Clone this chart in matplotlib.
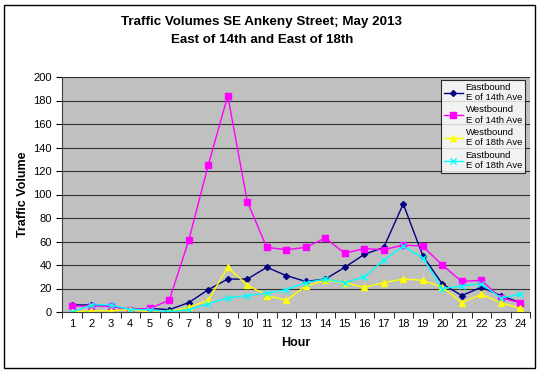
import numpy as np
import matplotlib.pyplot as plt
from matplotlib.patches import Rectangle

plt.rcParams['font.family'] = ['Liberation Sans', 'DejaVu Sans']

hours = list(range(1, 25))
east_14 = [6, 6, 5, 2, 3, 2, 8, 19, 28, 28, 38, 31, 26, 28, 38, 49, 55, 92, 48, 24, 14, 21, 14, 8]
west_14 = [5, 5, 5, 2, 3, 10, 61, 125, 184, 94, 55, 53, 55, 63, 50, 54, 53, 57, 56, 40, 26, 27, 12, 8]
west_18 = [0, 1, 1, 2, 0, 0, 4, 10, 38, 23, 14, 10, 22, 27, 25, 21, 25, 28, 27, 21, 8, 15, 8, 3]
east_18 = [0, 6, 6, 2, 2, 0, 2, 7, 12, 14, 16, 19, 25, 28, 25, 30, 44, 56, 46, 20, 22, 24, 12, 15]

fig = plt.figure(figsize=(5.4, 3.72), dpi=100)
ax = fig.add_axes([62 / 540, 1 - 312 / 372, 468 / 540, 235 / 372])
ax.set_facecolor('#C0C0C0')

ax.plot(hours, east_14, color='#000080', marker='D', markersize=3, lw=1,
        label='Eastbound\nE of 14th Ave')
ax.plot(hours, west_14, color='#FF00FF', marker='s', markersize=4.5, lw=1,
        label='Westbound\nE of 14th Ave')
ax.plot(hours, west_18, color='#FFFF00', marker='^', markersize=4, lw=1,
        label='Westbound\nE of 18th Ave')
ax.plot(hours, east_18, color='#00FFFF', marker='x', markersize=4, lw=1,
        label='Eastbound\nE of 18th Ave')

ax.set_xlim(0.5, 24.5)
ax.set_ylim(0, 200)
ax.set_yticks(np.arange(0, 201, 20))
ax.set_xticks(hours)
ax.set_xticks(np.arange(0.5, 25, 1), minor=True)
ax.tick_params(axis='x', which='major', length=0, labelsize=8, pad=5)
ax.tick_params(axis='x', which='minor', length=4, direction='out')
ax.tick_params(axis='y', labelsize=8, length=4, direction='out')
ax.yaxis.grid(True, color='#303030', lw=0.8)
ax.set_axisbelow(True)
for s in ['top', 'right']:
    ax.spines[s].set_visible(False)
ax.spines['left'].set_color('#404040')
ax.spines['bottom'].set_color('#404040')

ax.set_xlabel('Hour', fontsize=9, fontweight='bold', labelpad=6)
ax.set_ylabel('Traffic Volume', fontsize=9, fontweight='bold', labelpad=3)

fig.text(0.485, 1 - 22 / 372, 'Traffic Volumes SE Ankeny Street; May 2013',
         ha='center', va='center', fontsize=9.6, fontweight='bold')
fig.text(0.485, 1 - 40 / 372, 'East of 14th and East of 18th',
         ha='center', va='center', fontsize=9.6, fontweight='bold')

leg = ax.legend(loc='upper right', bbox_to_anchor=(0.995, 1.0), fontsize=6.8,
                frameon=True, fancybox=False, edgecolor='black',
                handlelength=2.0, labelspacing=0.35, borderpad=0.3,
                handletextpad=0.3, borderaxespad=0.3)
leg.get_frame().set_linewidth(0.8)

fig.patches.append(Rectangle((4 / 540, 4 / 372), 531 / 540, 363 / 372,
                             transform=fig.transFigure, fill=False,
                             edgecolor='black', lw=1))

fig.savefig('out.png', dpi=100)
